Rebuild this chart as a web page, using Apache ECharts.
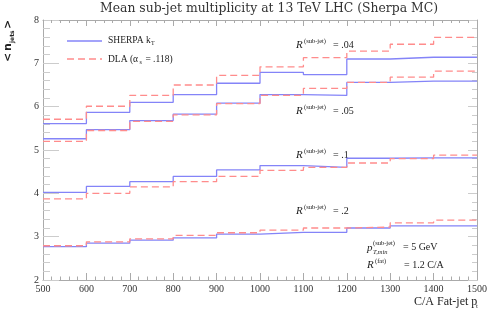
<!DOCTYPE html>
<html>
<head>
<meta charset="utf-8">
<script src="https://cdn.jsdelivr.net/npm/echarts@6/dist/echarts.min.js"></script>
<style>html,body{margin:0;padding:0;background:#fff}#c{width:490px;height:314px}</style>
</head>
<body>
<div id="c"></div>
<script>
// bin lower edges (C/A Fat-jet pt)
const binEdges = [500, 600, 700, 800, 900, 1000, 1100, 1200, 1300, 1400, 1500];
const xTicks = [500, 600, 700, 800, 900, 1000, 1100, 1200, 1300, 1400, 1500];
const yTicks = [2, 3, 4, 5, 6, 7, 8];

// SHERPA kT
const sherpa_R004 = [5.61, 5.87, 6.10, 6.28, 6.54, 6.79, 6.74, 7.10, 7.14, 7.14];
const sherpa_R005 = [5.26, 5.47, 5.68, 5.83, 6.08, 6.28, 6.26, 6.56, 6.59, 6.59];
const sherpa_R01  = [4.02, 4.16, 4.27, 4.39, 4.54, 4.64, 4.60, 4.81, 4.82, 4.82];
const sherpa_R02  = [2.77, 2.85, 2.92, 2.97, 3.06, 3.10, 3.10, 3.20, 3.25, 3.25];
// DLA (alpha_s = .118)
const dla_R004 = [5.71, 6.01, 6.26, 6.50, 6.72, 6.92, 7.13, 7.28, 7.44, 7.60];
const dla_R005 = [5.20, 5.45, 5.66, 5.81, 6.07, 6.26, 6.42, 6.56, 6.68, 6.82];
const dla_R01  = [3.87, 4.00, 4.15, 4.27, 4.39, 4.53, 4.60, 4.70, 4.80, 4.88];
const dla_R02  = [2.79, 2.88, 2.95, 3.03, 3.09, 3.15, 3.20, 3.22, 3.32, 3.38];

const BLUE = '#8484f8';
const RED = '#ff8c8c';
const SERIF = '"Liberation Serif", "DejaVu Serif", serif';
const DASH = [7, 4];

function hist(vals) {
  const pts = vals.map((v, i) => [binEdges[i], v]);
  pts.push([binEdges[binEdges.length - 1], vals[vals.length - 1]]);
  return pts;
}
function mk(name, vals, color, dashed) {
  return {
    name: name, type: 'line', step: 'end', data: hist(vals),
    symbol: 'none', showSymbol: false, animation: false,
    lineStyle: { color: color, width: 1.3, type: dashed ? DASH : 'solid' },
    itemStyle: { color: color }
  };
}

const chart = echarts.init(document.getElementById('c'), null, { renderer: 'canvas' });

const axisCommon = {
  type: 'value', min: 500, max: 1500, interval: 100,
  axisLine: { lineStyle: { color: '#aaaaaa', width: 1 } },
  splitLine: { show: false }
};

function txt(x, y, s, font, extra) {
  return {
    type: 'text', x: x, y: y, silent: true,
    style: Object.assign({ text: s, font: font, fill: '#222', textVerticalAlign: 'middle' }, extra || {})
  };
}
function rLabel(x, y, val) {
  return [
    txt(x, y, 'R', 'italic 11px ' + SERIF),
    txt(x + 8, y - 4, '(sub-jet)', '6.5px ' + SERIF),
    txt(x + 37, y, '= ' + val, '10px ' + SERIF)
  ];
}
const SANSB = 'bold 11px "DejaVu Sans", sans-serif';

const graphics = [].concat(
  [txt(269, 9, 'Mean sub-jet multiplicity at 13 TeV LHC (Sherpa MC)', '12.4px "DejaVu Serif", serif', { textAlign: 'center', fill: '#333' })],
  // legend
  [
    { type: 'line', silent: true, shape: { x1: 67, y1: 41, x2: 102, y2: 41 }, style: { stroke: BLUE, lineWidth: 1.3 } },
    { type: 'line', silent: true, shape: { x1: 67, y1: 59, x2: 102, y2: 59 }, style: { stroke: RED, lineWidth: 1.3, lineDash: DASH } },
    txt(108, 40, 'SHERPA k', '9.5px ' + SERIF),
    txt(151, 43, 'T', '6px ' + SERIF),
    txt(108, 59, 'DLA (α', '9.5px ' + SERIF),
    txt(139.5, 62, 's', '6px ' + SERIF),
    txt(143, 59, ' = .118)', '9.5px ' + SERIF)
  ],
  rLabel(296, 45, '.04'),
  rLabel(296, 111, '.05'),
  rLabel(296, 155, '.1'),
  rLabel(296, 211, '.2'),
  [
    txt(367, 248, 'p', 'italic 11px ' + SERIF),
    txt(373, 243, '(sub-jet)', '6.5px ' + SERIF),
    txt(373, 252, 'T,min', 'italic 6.5px ' + SERIF),
    txt(403, 247, '= 5 GeV', '10px ' + SERIF),
    txt(367, 265, 'R', 'italic 11px ' + SERIF),
    txt(375, 261, '(fat)', '6.5px ' + SERIF),
    txt(404, 265, '= 1.2 C/A', '10px ' + SERIF),
    // x axis name
    txt(414, 302, 'C/A Fat-jet p', '12px ' + SERIF),
    txt(476, 306, 't', '7px ' + SERIF),
    // y axis name
    {
      type: 'group', x: 8, y: 42, rotation: Math.PI / 2, silent: true,
      children: [
        { type: 'text', x: -20, y: 0, style: { text: '<', font: SANSB, fill: '#222', textVerticalAlign: 'middle' } },
        { type: 'text', x: -9, y: 0, style: { text: 'n', font: SANSB, fill: '#222', textVerticalAlign: 'middle' } },
        { type: 'text', x: -1, y: 4, style: { text: 'jets', font: 'bold 6px "DejaVu Sans", sans-serif', fill: '#222', textVerticalAlign: 'middle' } },
        { type: 'text', x: 13, y: 0, style: { text: '>', font: SANSB, fill: '#222', textVerticalAlign: 'middle' } }
      ]
    }
  ]
);

chart.setOption({
  backgroundColor: '#ffffff',
  animation: false,
  grid: { left: 43, right: 11, top: 20, bottom: 34 },
  xAxis: [
    Object.assign({}, axisCommon, {
      position: 'bottom',
      axisTick: { inside: true, length: 7, lineStyle: { color: '#aaaaaa' } },
      minorTick: { show: true, splitNumber: 5, length: 3.5, lineStyle: { color: '#aaaaaa' } },
      axisLabel: { fontFamily: SERIF, fontSize: 10, color: '#333', margin: 4,
        formatter: function (v) { return xTicks.indexOf(v) >= 0 ? String(v) : ''; } }
    }),
    Object.assign({}, axisCommon, {
      position: 'top',
      axisTick: { inside: true, length: 6, lineStyle: { color: '#aaaaaa' } },
      minorTick: { show: true, splitNumber: 5, length: 3, lineStyle: { color: '#aaaaaa' } },
      axisLabel: { show: false }
    })
  ],
  yAxis: [
    {
      type: 'value', min: 2, max: 8, interval: 1, position: 'left',
      axisLine: { show: true, lineStyle: { color: '#aaaaaa' } },
      axisTick: { inside: true, length: 16, lineStyle: { color: '#cccccc' } },
      minorTick: { show: true, splitNumber: 5, length: 7, lineStyle: { color: '#cccccc' } },
      splitLine: { show: false },
      axisLabel: { fontFamily: SERIF, fontSize: 10, color: '#333', margin: 4,
        formatter: function (v) { return yTicks.indexOf(v) >= 0 ? String(v) : ''; } }
    },
    {
      type: 'value', min: 2, max: 8, interval: 1, position: 'right',
      axisLine: { show: true, lineStyle: { color: '#aaaaaa' } },
      axisTick: { inside: true, length: 9, lineStyle: { color: '#cccccc' } },
      minorTick: { show: true, splitNumber: 5, length: 5, lineStyle: { color: '#cccccc' } },
      splitLine: { show: false },
      axisLabel: { show: false }
    }
  ],
  series: [
    mk('SHERPA', sherpa_R004, BLUE, false),
    mk('SHERPA', sherpa_R005, BLUE, false),
    mk('SHERPA', sherpa_R01, BLUE, false),
    mk('SHERPA', sherpa_R02, BLUE, false),
    mk('DLA', dla_R004, RED, true),
    mk('DLA', dla_R005, RED, true),
    mk('DLA', dla_R01, RED, true),
    mk('DLA', dla_R02, RED, true)
  ],
  graphic: graphics
});
</script>
</body>
</html>
